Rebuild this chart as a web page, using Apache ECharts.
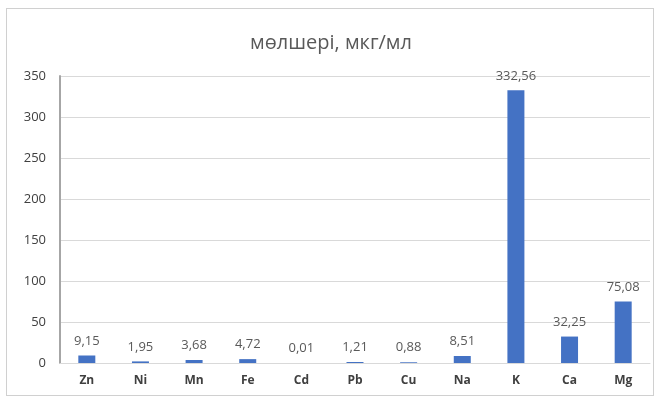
<!DOCTYPE html>
<html><head><meta charset="utf-8">
<script src="https://cdn.jsdelivr.net/npm/echarts@6/dist/echarts.min.js"></script>
<style>
html,body{margin:0;padding:0;background:#fff;}
#frame{position:absolute;left:6px;top:8px;width:648px;height:388px;border:1px solid #d0d0d0;box-sizing:border-box;}
#c{position:absolute;left:0;top:0;width:662px;height:404px;}
</style></head>
<body><div id="frame"></div><div id="c"></div>
<script>
var categories = ['Zn','Ni','Mn','Fe','Cd','Pb','Cu','Na','K','Ca','Mg'];
var values = [9.15, 1.95, 3.68, 4.72, 0.01, 1.21, 0.88, 8.51, 332.56, 32.25, 75.08];
var yTicks = [0, 50, 100, 150, 200, 250, 300, 350];
var title = 'мөлшері, мкг/мл';

var chart = echarts.init(document.getElementById('c'), null, {renderer:'canvas'});
chart.setOption({
  animation:false,
  title:{text:title, left:'center', top:28, textStyle:{fontFamily:'Open Sans', fontSize:20, fontWeight:'normal', color:'#595959'}},
  grid:{left:60, right:12, top:76, bottom:41, containLabel:false},
  xAxis:{type:'category', data:categories,
    axisLine:{lineStyle:{color:'#d9d9d9'}}, axisTick:{show:false},
    axisLabel:{color:'#404040', fontFamily:'Open Sans', fontSize:12, fontWeight:'bold', margin:12}},
  yAxis:{type:'value', min:yTicks[0], max:yTicks[yTicks.length-1], interval:50,
    axisLine:{show:true, lineStyle:{color:'#a6a6a6', width:2}}, axisTick:{show:false},
    splitLine:{lineStyle:{color:'#d9d9d9'}},
    axisLabel:{color:'#404040', fontFamily:'Open Sans', fontSize:13, margin:14}},
  series:[{type:'bar', data:values, barWidth:17,
    itemStyle:{color:'#4472C4'},
    label:{show:true, position:'top', distance:8, color:'#595959', fontFamily:'Open Sans', fontSize:13,
      formatter:function(p){return p.value.toFixed(2).replace('.',',');}}}]
});
</script></body></html>
